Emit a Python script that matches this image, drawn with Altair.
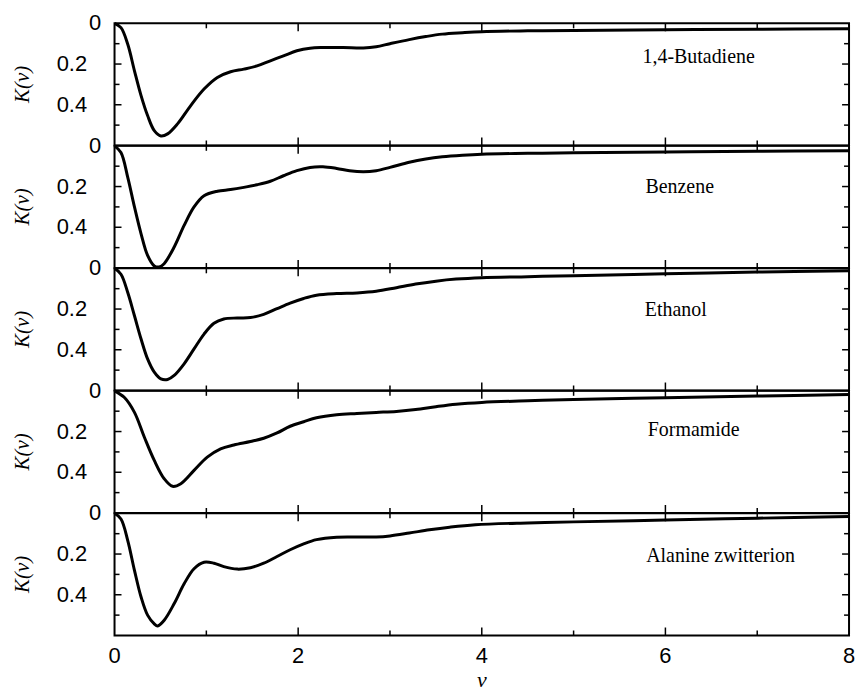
import altair as alt
import pandas as pd

# ---------------- data ----------------
names = ["1,4-Butadiene", "Benzene", "Ethanol", "Formamide", "Alanine zwitterion"]

butadiene_v = [0, 0.07, 0.144, 0.217, 0.289, 0.36, 0.433, 0.505, 0.578, 0.686, 0.83, 0.975,
               1.12, 1.264, 1.408, 1.552, 1.697, 1.84, 1.986, 2.13, 2.27, 2.49, 2.71, 2.85,
               3.0, 3.21, 3.39, 3.57, 3.79, 4.0, 4.5, 5, 6, 7, 8]
butadiene_k = [0, 0.021, 0.103, 0.233, 0.355, 0.453, 0.527, 0.553, 0.543, 0.494, 0.404, 0.323,
               0.266, 0.238, 0.225, 0.209, 0.184, 0.16, 0.135, 0.122, 0.119, 0.119, 0.121, 0.115,
               0.1, 0.08, 0.065, 0.053, 0.046, 0.041, 0.037, 0.035, 0.031, 0.029, 0.027]

benzene_v = [0, 0.07, 0.144, 0.217, 0.289, 0.36, 0.433, 0.487, 0.54, 0.65, 0.758, 0.866, 0.975,
             1.12, 1.264, 1.408, 1.552, 1.697, 1.84, 1.986, 2.13, 2.27, 2.42, 2.56, 2.71, 2.85,
             3.0, 3.21, 3.39, 3.57, 3.79, 4.0, 4.5, 5, 6, 7, 8]
benzene_k = [0, 0.033, 0.155, 0.30, 0.432, 0.538, 0.59, 0.595, 0.579, 0.497, 0.391, 0.30, 0.245,
             0.223, 0.215, 0.204, 0.191, 0.174, 0.147, 0.122, 0.106, 0.103, 0.111, 0.122, 0.127,
             0.122, 0.106, 0.081, 0.065, 0.054, 0.046, 0.041, 0.037, 0.034, 0.030, 0.027, 0.024]

ethanol_v = [0, 0.07, 0.144, 0.217, 0.289, 0.36, 0.433, 0.505, 0.578, 0.65, 0.758, 0.866, 0.975,
             1.083, 1.19, 1.336, 1.48, 1.625, 1.77, 1.913, 2.06, 2.2, 2.42, 2.64, 2.85, 3.07,
             3.28, 3.5, 3.72, 4.0, 4.5, 5, 6, 7, 8]
ethanol_k = [0, 0.029, 0.119, 0.233, 0.347, 0.445, 0.51, 0.543, 0.546, 0.526, 0.469, 0.396, 0.323,
             0.27, 0.249, 0.244, 0.242, 0.226, 0.198, 0.171, 0.148, 0.132, 0.124, 0.121, 0.113,
             0.095, 0.077, 0.063, 0.053, 0.046, 0.041, 0.036, 0.027, 0.018, 0.012]

formamide_v = [0, 0.108, 0.217, 0.325, 0.433, 0.541, 0.632, 0.722, 0.866, 1.01, 1.155, 1.3, 1.48,
               1.625, 1.77, 1.913, 2.06, 2.2, 2.42, 2.64, 2.85, 3.07, 3.28, 3.5, 3.72, 4.0, 4.5,
               5, 6, 7, 8]
formamide_k = [0, 0.033, 0.106, 0.228, 0.342, 0.432, 0.469, 0.456, 0.391, 0.326, 0.285, 0.266,
               0.249, 0.233, 0.207, 0.174, 0.152, 0.132, 0.117, 0.111, 0.106, 0.101, 0.092, 0.078,
               0.066, 0.057, 0.049, 0.043, 0.034, 0.026, 0.018]

alanine_v = [0, 0.07, 0.144, 0.217, 0.289, 0.36, 0.433, 0.47, 0.541, 0.65, 0.758, 0.866, 0.975,
             1.083, 1.19, 1.336, 1.48, 1.625, 1.77, 1.913, 2.06, 2.2, 2.42, 2.64, 2.85, 3.0,
             3.21, 3.43, 3.65, 3.93, 4.5, 5, 6, 7, 8]
alanine_k = [0, 0.028, 0.134, 0.28, 0.411, 0.5, 0.543, 0.553, 0.525, 0.443, 0.346, 0.272, 0.24,
             0.245, 0.262, 0.274, 0.267, 0.245, 0.212, 0.179, 0.15, 0.129, 0.117, 0.116, 0.116,
             0.111, 0.097, 0.081, 0.068, 0.056, 0.047, 0.042, 0.033, 0.024, 0.016]

series_v = [butadiene_v, benzene_v, ethanol_v, formamide_v, alanine_v]
series_k = [butadiene_k, benzene_k, ethanol_k, formamide_k, alanine_k]

x_label_values = [0, 2, 4, 6, 8]
x_label_texts = ["0", "2", "4", "6", "8"]
x_title = "ν"
y_title = "K(ν)"
x_major = [2, 4, 6]
x_minor = [1, 3, 5, 7]
y_major = [0.2, 0.4]
y_minor = [0.1, 0.3, 0.5]
y_label_values = [0, 0.2, 0.4]
y_label_texts = ["0", "0.2", "0.4"]

# ---------------- layout / style ----------------
W = 737.5
H = 122.66
name_pos = [(586.5, 33.6), (567.5, 41.7), (563.5, 41.6), (581.5, 39.0), (608.5, 43.0)]

xs = alt.Scale(domain=[0, 8], nice=False, zero=False)
ys = alt.Scale(domain=[0, 0.6], reverse=True, nice=False, zero=False)


def x_ticks(values, length):
    d = pd.DataFrame({"v": values})
    top = alt.Chart(d).mark_rule(color="black", strokeWidth=1.5).encode(
        x=alt.X("v:Q", scale=xs, axis=None), y=alt.value(0), y2=alt.value(length))
    bot = alt.Chart(d).mark_rule(color="black", strokeWidth=1.5).encode(
        x=alt.X("v:Q", scale=xs, axis=None), y=alt.value(H), y2=alt.value(H - length))
    return [top, bot]


def y_ticks(values, length):
    d = pd.DataFrame({"k": values})
    left = alt.Chart(d).mark_rule(color="black", strokeWidth=1.5).encode(
        y=alt.Y("k:Q", scale=ys, axis=None), x=alt.value(0), x2=alt.value(length))
    right = alt.Chart(d).mark_rule(color="black", strokeWidth=1.5).encode(
        y=alt.Y("k:Q", scale=ys, axis=None), x=alt.value(W), x2=alt.value(W - length))
    return [left, right]


def panel(i):
    bottom = i == len(names) - 1
    df = pd.DataFrame({"v": series_v[i], "k": series_k[i]})
    line = alt.Chart(df).mark_line(color="black", strokeWidth=3, interpolate="catmull-rom").encode(
        x=alt.X("v:Q", scale=xs, axis=None),
        y=alt.Y("k:Q", scale=ys, axis=None))

    lab = pd.DataFrame({"k": y_label_values, "t": y_label_texts})
    ylab0 = alt.Chart(lab).transform_filter("datum.k == 0").mark_text(
        align="right", baseline="middle", font="Liberation Sans", fontSize=22, color="black"
    ).encode(x=alt.value(-13.5), y=alt.Y("k:Q", scale=ys, axis=None), text="t:N")
    ylab1 = alt.Chart(lab).transform_filter("datum.k > 0").mark_text(
        align="right", baseline="middle", font="Liberation Sans", fontSize=22, color="black"
    ).encode(x=alt.value(-27.5), y=alt.Y("k:Q", scale=ys, axis=None), text="t:N")

    ytitle = alt.Chart(pd.DataFrame({"t": [y_title]})).mark_text(
        angle=270, align="center", baseline="middle", font="Liberation Serif",
        fontStyle="italic", fontSize=21, color="black"
    ).encode(x=alt.value(-91.5), y=alt.value(H / 2), text="t:N")

    cx, cy = name_pos[i]
    nm = alt.Chart(pd.DataFrame({"name": [names[i]]})).mark_text(
        align="center", baseline="middle", font="Liberation Serif", fontSize=20, color="black"
    ).encode(x=alt.value(cx), y=alt.value(cy), text="name:N")

    layers = [line] + x_ticks(x_major, 8) + x_ticks(x_minor, 5) + \
        y_ticks(y_major, 7) + y_ticks(y_minor, 5) + [ylab0, ylab1, ytitle, nm]

    # invisible anchor fixing the page's top-left extent
    if i == 0:
        layers.append(alt.Chart(pd.DataFrame({"a": [0]})).mark_rule(strokeOpacity=0).encode(
            x=alt.value(-113.5), x2=alt.value(-113.5), y=alt.value(-20.7), y2=alt.value(-19.7)))
    if bottom:
        xl = pd.DataFrame({"v": x_label_values, "t": x_label_texts})
        layers.append(alt.Chart(xl).mark_text(
            align="center", baseline="middle", font="Liberation Sans", fontSize=22, color="black"
        ).encode(x=alt.X("v:Q", scale=xs, axis=None), y=alt.value(H + 20.5), text="t:N"))
        layers.append(alt.Chart(pd.DataFrame({"t": [x_title]})).mark_text(
            align="center", baseline="alphabetic", font="Liberation Serif", fontStyle="italic",
            fontSize=22, color="black"
        ).encode(x=alt.value(W / 2), y=alt.value(H + 52), text="t:N"))

    return alt.layer(*layers).properties(width=W, height=H)


chart = alt.vconcat(*[panel(i) for i in range(len(names))], spacing=0, bounds="flush").properties(
    padding=0, background="white"
).configure_view(stroke="black", strokeWidth=2)

chart.save("out.html", embed_options={"renderer": "svg", "actions": False})
